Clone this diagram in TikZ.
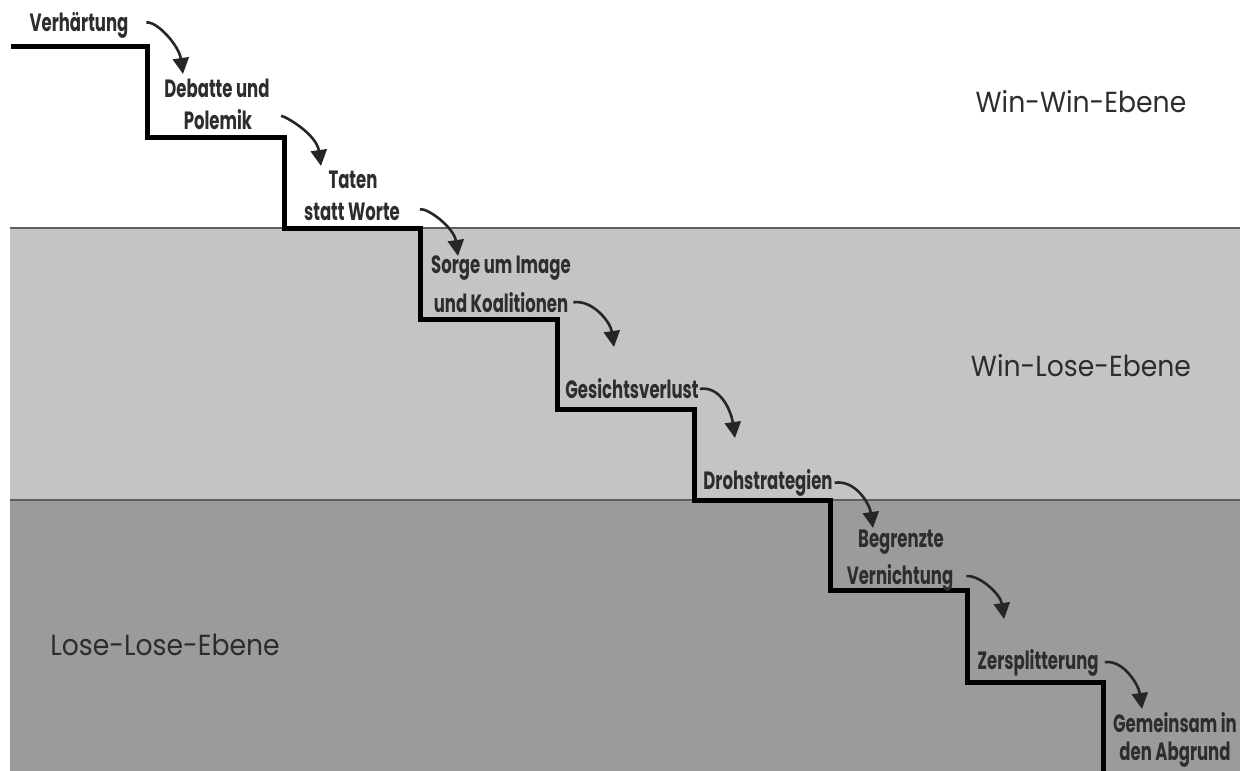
\documentclass[tikz,border=0pt]{standalone}
\usepackage{fontspec}
\setmainfont{Poppins}
\newfontfamily\stepfont[FakeStretch=0.66]{Poppins}
\newfontfamily\lvlfont[FakeStretch=0.92]{Poppins}
\usetikzlibrary{arrows.meta}
\definecolor{lightband}{RGB}{196,196,196}
\definecolor{darkband}{RGB}{155,155,155}
\definecolor{bandline}{RGB}{95,95,95}
\definecolor{labtext}{RGB}{45,45,45}
\definecolor{lvltext}{RGB}{45,45,45}
\tikzset{
  lab/.style={font=\stepfont\bfseries\fontsize{25}{28}\selectfont, text=labtext, inner sep=0pt},
  lvl/.style={font=\lvlfont\fontsize{29}{32}\selectfont, text=lvltext, inner sep=0pt},
  stair/.style={line width=5pt, line join=miter, black},
  arr/.style={line width=2.6pt, black!85, -{Triangle[length=16pt,width=16pt]}},
  sep/.style={line width=1.8pt, bandline}
}
\begin{document}
\begin{tikzpicture}[x=1pt,y=-1pt]
\useasboundingbox (0,0) rectangle (1243,771);
% bands
\fill[white] (0,0) rectangle (1243,771);
\fill[lightband] (10,228) rectangle (1240,500);
\fill[darkband] (10,500) rectangle (1240,771);
\draw[sep] (10,228) -- (1240,228);
\draw[sep] (10,500) -- (1240,500);
% staircase
\draw[stair] (11,46) -- (147,46) -- (147,137) -- (284,137) -- (284,228)
  -- (420,228) -- (420,319) -- (557,319) -- (557,409) -- (694,409)
  -- (694,500) -- (830,500) -- (830,590) -- (967,590) -- (967,682)
  -- (1103,682) -- (1103,771);
% level labels
\node[lvl] (ww) at (1081,102) {Win-Win-Ebene};
\node[lvl] (wl) at (1081,366) {Win-Lose-Ebene};
\node[lvl] (ll) at (165,645) {Lose-Lose-Ebene};
% step labels
\node[lab] (n1)  at (79,25)   {Verhärtung};
\node[lab] (n2a) at (217,88)  {Debatte und};
\node[lab] (n2b) at (218,120) {Polemik};
\node[lab] (n3a) at (353,180) {Taten};
\node[lab] (n3b) at (352,212) {statt Worte};
\node[lab] (n4a) at (501,268) {Sorge um Image};
\node[lab] (n4b) at (501,303) {und Koalitionen};
\node[lab] (n5)  at (632,389) {Gesichtsverlust};
\node[lab] (n6)  at (768,483) {Drohstrategien};
\node[lab] (n7a) at (901,542) {Begrenzte};
\node[lab] (n7b) at (900,578) {Vernichtung};
\node[lab] (n8)  at (1038,663) {Zersplitterung};
\node[lab] (n9a) at (1175,723) {Gemeinsam in};
\node[lab] (n9b) at (1175,755) {den Abgrund};
% arrow tips
\coordinate (t1) at (183,74);
\coordinate (t2) at (321,166);
\coordinate (t3) at (458,256);
\coordinate (t4) at (614,347);
\coordinate (t5) at (735,438);
\coordinate (t6) at (873,528);
\coordinate (t7) at (1004,619);
\coordinate (t8) at (1142,709);
% arrows
\draw[arr, shorten <=18pt] (n1.east)  to[out=8,in=98] (t1);
\draw[arr, shorten <=29pt] (n2b.east) to[out=8,in=98] (t2);
\draw[arr, shorten <=20pt] (n3b.east) to[out=8,in=98] (t3);
\draw[arr, shorten <=5pt]  (n4b.east) to[out=8,in=98] (t4);
\draw[arr, shorten <=1pt]  (n5.east)  to[out=8,in=98] (t5);
\draw[arr, shorten <=2pt]  (n6.east)  to[out=8,in=98] (t6);
\draw[arr, shorten <=13pt] (n7b.east) to[out=8,in=98] (t7);
\draw[arr, shorten <=6pt]  (n8.east)  to[out=8,in=98] (t8);
\end{tikzpicture}
\end{document}
